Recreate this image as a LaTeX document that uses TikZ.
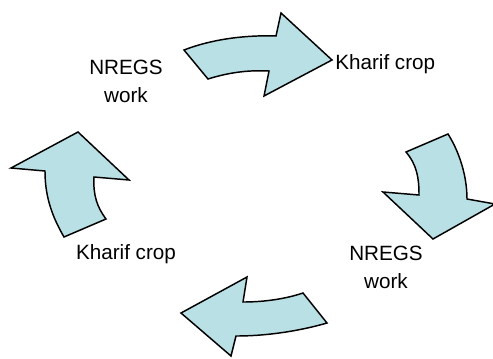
\documentclass[tikz,border=0pt]{standalone}
\usepackage{fontspec}
\setmainfont{Liberation Sans}
\definecolor{arrowfill}{RGB}{185,224,229}
\begin{document}
\begin{tikzpicture}[x=0.75pt,y=-0.75pt,
  bigarrow/.style={draw=black,fill=arrowfill,line width=1.1pt,line join=miter},
  lbl/.style={font=\fontsize{15.5}{21}\selectfont,align=center,inner sep=0pt}]
\useasboundingbox (0,0) rectangle (493,358);
% top arrow
\path[bigarrow] (184,50) .. controls (215,38) and (250,35) .. (276,36)
  -- (281,13) -- (332,60) -- (264,96) -- (269,71)
  .. controls (250,70) and (230,72) .. (208,79) -- cycle;
% right arrow
\path[bigarrow] (448,134) .. controls (460,153) and (467,177) .. (467,199)
  -- (495,204) -- (433,239) -- (383,192) -- (419,195)
  .. controls (419,178) and (417,165) .. (406,152) -- cycle;
% bottom arrow
\path[bigarrow] (327,323) .. controls (303,330) and (270,336) .. (236,336)
  -- (231,356) -- (181,313) -- (247,277) -- (243,302)
  .. controls (260,302) and (282,300) .. (303,293) -- cycle;
% left arrow
\path[bigarrow] (64,237) .. controls (50,213) and (45,193) .. (45,171)
  -- (11,168) -- (78,132) -- (129,180) -- (94,177)
  .. controls (93,195) and (97,207) .. (106,219) -- cycle;
% labels
\node[lbl] (tl) at (126,81) {NREGS\\work};
\node[lbl,anchor=west] (tr) at (335,64) {Kharif crop};
\node[lbl] (br) at (386,267) {NREGS\\work};
\node[lbl] (bl) at (126,254) {Kharif crop};
\end{tikzpicture}
\end{document}
